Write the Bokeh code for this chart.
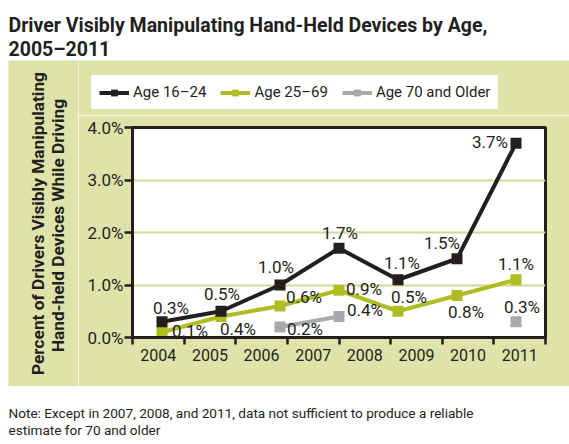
import math
from bokeh.plotting import figure
from bokeh.layouts import column, row
from bokeh.models import (Range1d, FixedTicker, PrintfTickFormatter, Legend, LegendItem,
                          ColumnDataSource, LabelSet)
from bokeh.core.properties import value
from bokeh.embed import file_html
from bokeh.resources import INLINE

# ---- data ----
years = [2005, 2006, 2007, 2008, 2009, 2010, 2011]
axis_labels = ["2004", "2005", "2006", "2007", "2008", "2009", "2010", "2011"]
age_16_24 = [0.3, 0.5, 1.0, 1.7, 1.1, 1.5, 3.7]
age_25_69 = [0.1, 0.4, 0.6, 0.9, 0.5, 0.8, 1.1]
age_70_up = [math.nan, math.nan, 0.2, 0.4, math.nan, math.nan, 0.3]
y_ticks = [0, 1, 2, 3, 4]

title_line1 = "Driver Visibly Manipulating Hand-Held Devices by Age,"
title_line2 = "2005\u20132011"
y_label_lines = ["Percent of Drivers Visibly Manipulating", "Hand-held Devices While Driving"]
note_line1 = "Note: Except in 2007, 2008, and 2011, data not sufficient to produce a reliable"
note_line2 = "estimate for 70 and older"
series_names = ["Age 16\u201324", "Age 25\u201369", "Age 70 and Older"]

# ---- styles ----
BLACK = "#231f20"
GREEN = "#afbd22"
GRAY = "#a7a9ac"
PANEL = "#dde3a9"
GRID = "#d3da98"
FONT = "Roboto"
W = 569
LW = 70            # width of the y-label strip
RW = W - 8 - LW    # width of the chart column
LH = 55            # height of the legend strip

# label offsets (screen px, y up) per series
off_black = ([9, 1, -4, 1, 4, -15, -26], [8, 11, 12, 9, 11, 10, -5])
off_green = ([28, 17, 24, 25, 11, 9, 0], [-5, -18, 3, -5, 8, -22, 10])
off_gray = ([0, 0, 25, 26, 0, 0, 6], [0, 0, -8, 1, 0, 0, 9])


def bare(w, h, fill="white"):
    f = figure(width=w, height=h, x_range=Range1d(0, w), y_range=Range1d(h, 0),
               x_axis_type=None, y_axis_type=None, output_backend="svg",
               toolbar_location=None, min_border=0, outline_line_color=None,
               background_fill_color=fill, border_fill_color=fill)
    f.frame_align = False
    return f


# ---- title ----
t = bare(W, 60)
t.text(x=[8, 8], y=[25, 49], text=[title_line1, title_line2], text_font=value(FONT),
       text_font_style="bold", text_font_size="19.5px", text_color=BLACK,
       text_baseline="alphabetic")

# ---- y-axis title strip ----
yl = bare(LW, 326, PANEL)
yl.margin = (0, 0, 0, 8)
yl.text(x=[29, 49], y=[163, 165], text=y_label_lines, angle=math.pi / 2,
        text_font=value(FONT), text_font_style="bold", text_font_size="17.3px",
        text_color=BLACK, text_align="center", text_baseline="middle")

# ---- legend strip (key for the series drawn below) ----
lf = bare(RW, LH, PANEL)
items = []
for name, color in zip(series_names, [BLACK, GREEN, GRAY]):
    kl = lf.line(x=[-50, -40], y=[-50, -50], line_color=color, line_width=4)
    ks = lf.scatter(x=[-50], y=[-50], marker="square", size=11, fill_color=color,
                    line_color=None)
    items.append(LegendItem(label=name, renderers=[kl, ks]))
leg = Legend(items=items, location=(13, LH - 49), orientation="horizontal",
             background_fill_color="white", background_fill_alpha=1,
             border_line_color="white", border_line_width=1,
             label_text_font=FONT, label_text_font_size="15px",
             label_text_color=BLACK, glyph_width=30, glyph_height=17, label_height=17,
             padding=7, spacing=14, label_standoff=4, margin=0)
lf.add_layout(leg, "center")

# ---- main chart ----
p = figure(width=RW, height=326 - LH, x_range=Range1d(2004.5, 2011.5), y_range=Range1d(0, 4),
           output_backend="svg", toolbar_location=None,
           min_border_left=132 - 8 - LW, min_border_right=24, min_border_top=67 - LH,
           min_border_bottom=49,
           border_fill_color=PANEL, background_fill_color="white",
           outline_line_color=BLACK, outline_line_width=3)
p.frame_align = False

n = len(axis_labels)
lo, hi = 2004.5, 2011.5
step = (hi - lo) / n
centers = [lo + step * (k + 0.5) for k in range(n)]
bounds = [lo + step * k for k in range(n + 1)]

p.xaxis.ticker = FixedTicker(ticks=centers, minor_ticks=bounds)
p.xaxis.major_label_overrides = {c: l for c, l in zip(centers, axis_labels)}
p.xaxis.major_tick_out = 0
p.xaxis.major_tick_in = 0
p.xaxis.minor_tick_out = 7
p.xaxis.minor_tick_in = 0
p.xaxis.minor_tick_line_color = BLACK
p.xaxis.minor_tick_line_width = 2.5
p.xaxis.major_label_standoff = 4
p.xaxis.major_label_text_font_size = "16px"
p.xgrid.visible = False

p.yaxis.ticker = FixedTicker(ticks=y_ticks)
p.yaxis.formatter = PrintfTickFormatter(format="%.1f%%")
p.yaxis.major_tick_out = 8
p.yaxis.major_tick_in = 0
p.yaxis.minor_tick_out = 0
p.yaxis.minor_tick_in = 0
p.yaxis.major_tick_line_color = BLACK
p.yaxis.major_tick_line_width = 2.5
p.yaxis.major_label_standoff = 1
p.yaxis.major_label_text_font_size = "17px"
p.ygrid.grid_line_color = GRID
p.ygrid.grid_line_width = 2

for ax in (p.xaxis, p.yaxis):
    ax.axis_line_color = BLACK
    ax.axis_line_width = 3
    ax.major_label_text_font = FONT
    ax.major_label_text_color = BLACK

for vals, color, offs in [(age_70_up, GRAY, off_gray), (age_25_69, GREEN, off_green),
                          (age_16_24, BLACK, off_black)]:
    src = ColumnDataSource(dict(
        x=years, y=vals,
        label=["" if (isinstance(v, float) and math.isnan(v)) else f"{v:.1f}%" for v in vals],
        dx=offs[0], dy=offs[1]))
    p.line("x", "y", source=src, line_color=color, line_width=4)
    p.scatter("x", "y", source=src, marker="square", size=11, fill_color=color,
              line_color=None)
    p.add_layout(LabelSet(x="x", y="y", text="label", source=src, x_offset="dx",
                          y_offset="dy", text_font=value(FONT), text_font_size="17px",
                          text_color=BLACK, text_align="center",
                          text_baseline="alphabetic"))

# ---- note ----
nt = bare(W, 58)
nt.text(x=[8, 8], y=[26, 43], text=[note_line1, note_line2], text_font=value(FONT),
        text_font_size="13.6px", text_color=BLACK, text_baseline="alphabetic")

layout = column(t, row(yl, column(lf, p, spacing=0), spacing=0), nt, spacing=0)
open("out.html", "w").write(file_html(layout, INLINE))
